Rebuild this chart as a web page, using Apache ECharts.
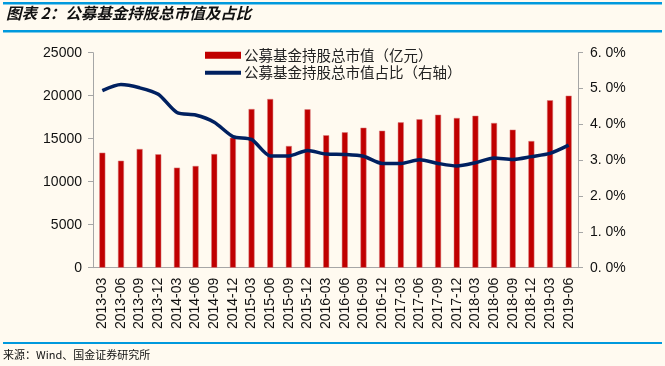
<!DOCTYPE html>
<html><head><meta charset="utf-8">
<script src="https://cdn.jsdelivr.net/npm/echarts@6/dist/echarts.min.js"></script>
<style>html,body{margin:0;padding:0;background:#fffaf0;}#c{width:665px;height:366px;}</style>
</head><body><div id="c"></div>
<script>
const categories = ['2013-03','2013-06','2013-09','2013-12','2014-03','2014-06','2014-09','2014-12','2015-03','2015-06','2015-09','2015-12','2016-03','2016-06','2016-09','2016-12','2017-03','2017-06','2017-09','2017-12','2018-03','2018-06','2018-09','2018-12','2019-03','2019-06'];
const marketValue = [13370,12440,13800,13190,11630,11830,13220,15120,18450,19620,14150,18420,15400,15740,16280,15930,16900,17260,17790,17410,17670,16830,16050,14730,19470,20000];
const sharePct = [4.94,5.11,5.02,4.84,4.33,4.26,4.06,3.66,3.58,3.12,3.12,3.27,3.17,3.16,3.11,2.91,2.91,3.01,2.91,2.84,2.93,3.06,3.02,3.10,3.19,3.42];
const leftTicks = [0,5000,10000,15000,20000,25000];
const rightTicks = [0,1,2,3,4,5,6];
const seriesNames = ['公募基金持股总市值（亿元）','公募基金持股总市值占比（右轴）'];

const chart = echarts.init(document.getElementById('c'), null, {renderer:'canvas'});
const axisColor = '#a6a6a6';
const cjk = '"Noto Sans CJK SC", sans-serif';
chart.setOption({
  backgroundColor:'#fffaf0',
  animation:false,
  grid:{left:93,right:87,top:52.7,bottom:98.3},
  legend:{
    orient:'vertical', left:200, top:43, itemGap:3, itemWidth:36, itemHeight:7,
    textStyle:{fontFamily:cjk, fontSize:14.5, color:'#222', padding:[0,0,0,-2]},
    data:[{name:seriesNames[0], icon:'rect', itemStyle:{borderWidth:0}},{name:seriesNames[1], icon:'path://M0,0 L36,0 L36,4 L0,4 Z'}]
  },
  xAxis:{type:'category', data:categories, boundaryGap:true,
    axisLine:{lineStyle:{color:axisColor}},
    axisTick:{lineStyle:{color:axisColor}, length:5, alignWithLabel:false},
    axisLabel:{rotate:90, interval:0, fontFamily:'Arial, "Liberation Sans"', fontSize:14, color:'#111', margin:10}
  },
  yAxis:[
    {type:'value', min:0, max:25000, interval:5000, splitLine:{show:false},
     axisLine:{show:true, lineStyle:{color:axisColor}},
     axisTick:{show:true, length:5, inside:false, lineStyle:{color:axisColor}},
     axisLabel:{fontFamily:'Arial, "Liberation Sans"', fontSize:14, color:'#111', margin:11, formatter:v=>String(v)}},
    {type:'value', min:0, max:6, interval:1, splitLine:{show:false},
     axisLine:{show:true, lineStyle:{color:axisColor}},
     axisTick:{show:true, length:5, lineStyle:{color:axisColor}},
     axisLabel:{fontFamily:'Arial, "Liberation Sans"', fontSize:14, color:'#111', margin:12,
       formatter:v=>v.toFixed(1).replace('.', '. ')+'%'}}
  ],
  series:[
    {name:seriesNames[0], type:'bar', data:marketValue, barWidth:6,
     itemStyle:{color:'#c00000', borderColor:'#d88080', borderWidth:0.5}},
    {name:seriesNames[1], type:'line', yAxisIndex:1, data:sharePct, smooth:0.25, symbol:'none',
     lineStyle:{color:'#002060', width:3.5}, itemStyle:{color:'#002060'}}
  ],
  graphic:[
    {type:'rect', shape:{x:3,y:2,width:659,height:2.5}, style:{fill:'#0099dd'}},
    {type:'text', left:6, top:5, style:{text:'图表 2：公募基金持股总市值及占比', font:'italic bold 15.5px "Noto Sans CJK SC", sans-serif', fill:'#111'}},
    {type:'rect', shape:{x:3,y:30,width:659,height:2.5}, style:{fill:'#0099dd'}},
    {type:'rect', shape:{x:3,y:342,width:659,height:2}, style:{fill:'#0099dd'}},
    {type:'text', left:3, top:349, style:{text:'来源：Wind、国金证券研究所', font:'11px "Noto Sans CJK SC", sans-serif', fill:'#111'}}
  ]
});
</script></body></html>
